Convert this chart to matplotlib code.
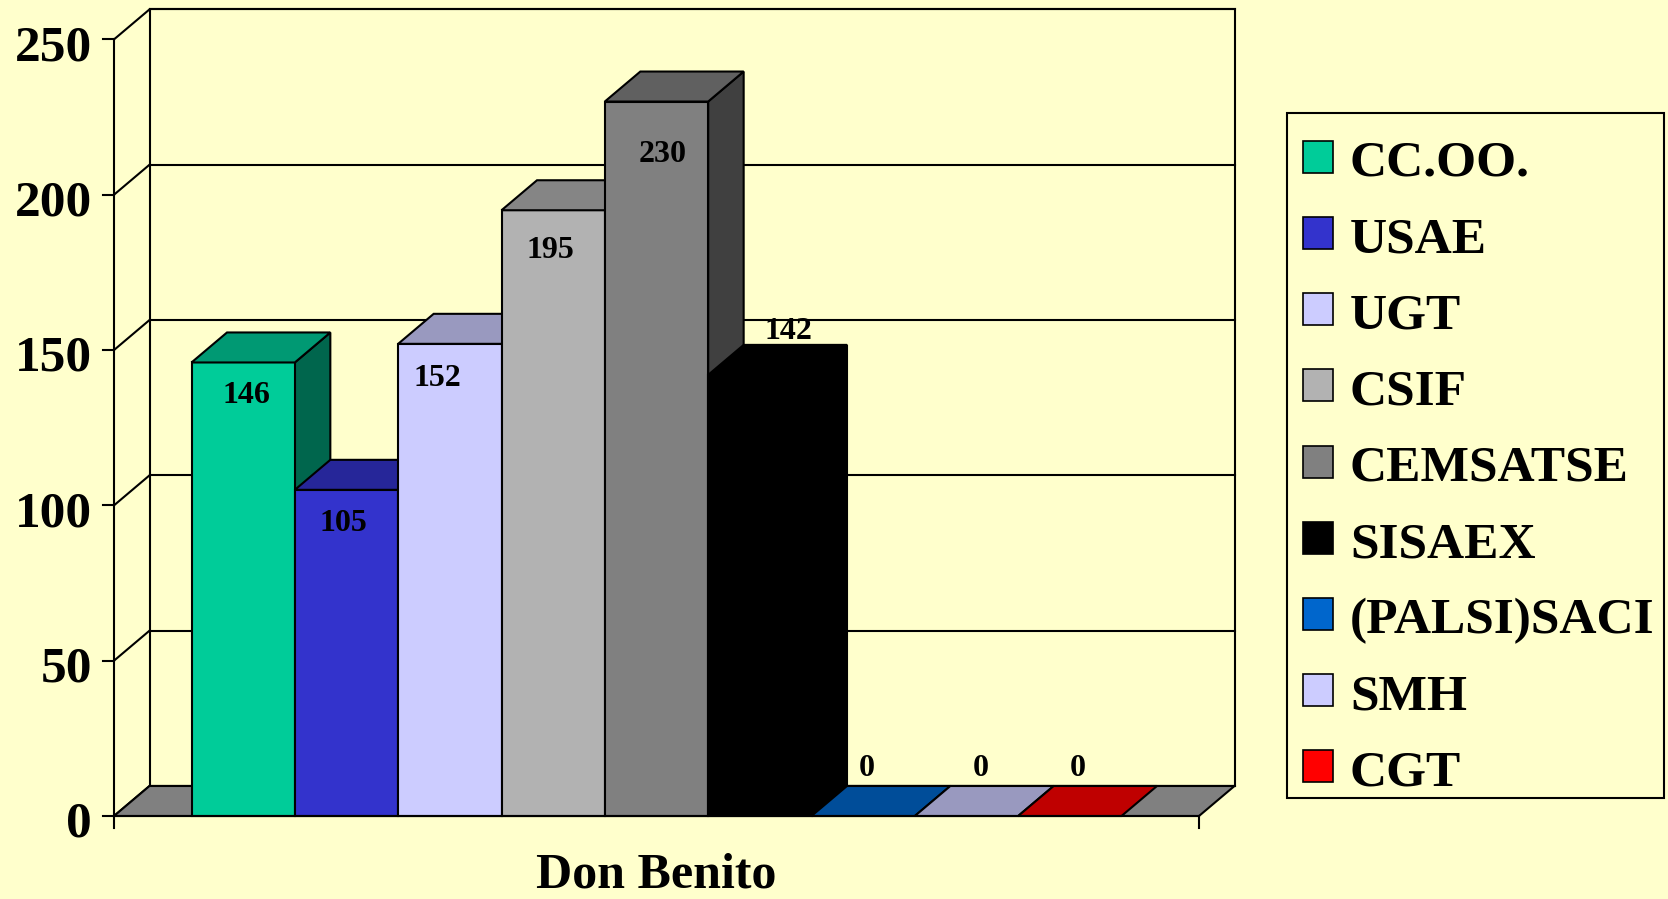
import matplotlib
matplotlib.use('Agg')
import matplotlib.pyplot as plt
from matplotlib.patches import Polygon, Rectangle
from matplotlib.lines import Line2D
from matplotlib.transforms import IdentityTransform
from matplotlib.colors import to_rgb

# ---------------- data ----------------
category = 'Don Benito'
series = ['CC.OO.', 'USAE', 'UGT', 'CSIF', 'CEMSATSE', 'SISAEX', '(PALSI)SACI', 'SMH', 'CGT']
values = [146, 105, 152, 195, 230, 142, 0, 0, 0]
colors = ['#00CC99', '#3333CC', '#CCCCFF', '#B2B2B2', '#808080', '#000000',
          '#0066CC', '#CCCCFF', '#FF0000']
yticks = [0, 50, 100, 150, 200, 250]

# ---------------- style ----------------
BG = '#FFFFCC'
FLOOR = '#808080'
FONT = 'Liberation Serif'
W, H, DPI = 1668, 899, 100
DX, DY = 35.5, 30.0      # depth offset (pixels)
LW = 1.5
# label placement relative to the front-top centre of each bar (pixels, +y downwards)
label_offset_px = [(3.5, 30), (-3.5, 30.5), (-12.5, 31.5), (-2.5, 37), (5.7, 50),
                   (29, -46.6), (4, -51), (14, -51), (8, -51)]

fig = plt.figure(figsize=(W / DPI, H / DPI), dpi=DPI, facecolor=BG)
ax = fig.add_axes([114 / W, 83 / H, 1085 / W, 776.6 / H])
n = len(values)
x0, x1 = -0.75, n + 0.75
ymax = yticks[-1]
ax.set_xlim(x0, x1)
ax.set_ylim(0, ymax)
ax.axis('off')
ax.set_facecolor(BG)

ID = IdentityTransform()
PT = 72.0 / DPI   # points per pixel


def P(x, y, d=0.0):
    px, py = ax.transData.transform((x, y))
    return (px + d * DX, py + d * DY)


def poly(pts, fc, z=2, ec='black'):
    ax.add_patch(Polygon(pts, closed=True, facecolor=fc, edgecolor=ec, linewidth=LW,
                         transform=ID, clip_on=False, zorder=z, joinstyle='miter'))


def line(p, q, z=1.5, lw=LW):
    ax.add_line(Line2D([p[0], q[0]], [p[1], q[1]], color='black', linewidth=lw,
                       transform=ID, clip_on=False, zorder=z, solid_capstyle='projecting'))


def shade(c, f):
    r, g, b = to_rgb(c)
    return (r * f, g * f, b * f)


# back wall
poly([P(x0, 0, 1), P(x1, 0, 1), P(x1, ymax, 1), P(x0, ymax, 1)], BG, z=1)
# gridlines on back wall and side wall
for t in yticks:
    line(P(x0, t, 1), P(x1, t, 1))
    line(P(x0, t, 0), P(x0, t, 1))
# floor
poly([P(x0, 0, 0), P(x1, 0, 0), P(x1, 0, 1), P(x0, 0, 1)], FLOOR, z=1.8)
# value axis (front left edge) and ticks
line(P(x0, 0), P(x0, ymax), z=5)
px, py = P(x0, 0)
line((px, py), (px, py - 12), z=5)
px, py = P(x1, 0)
line((px, py), (px, py - 12), z=5)
for t in yticks:
    px, py = P(x0, t)
    line((px - 11, py), (px, py), z=5)
    ax.annotate(str(t), xy=(x0, t), xytext=(-16.0, -14.9), textcoords='offset points',
                ha='right', va='baseline', fontsize=37, fontweight='bold',
                family=FONT, color='black', annotation_clip=False)

# bars, drawn left to right (painter's order)
for i, (v, c) in enumerate(zip(values, colors)):
    a, b = i, i + 1
    if v > 0:
        poly([P(b, 0, 0), P(b, 0, 1), P(b, v, 1), P(b, v, 0)], shade(c, 0.5), z=3)
        poly([P(a, 0, 0), P(b, 0, 0), P(b, v, 0), P(a, v, 0)], c, z=3)
    poly([P(a, v, 0), P(b, v, 0), P(b, v, 1), P(a, v, 1)], shade(c, 0.75), z=3)

# front floor edge on top
line(P(x0, 0), P(x1, 0), z=4)

# data labels (visual centre of digits ~0.34 em above baseline)
LFS = 23
for i, v in enumerate(values):
    dxp, dyp = label_offset_px[i]
    ax.annotate(str(v), xy=(i + 0.5, v), xytext=(dxp * PT, -dyp * PT - 0.34 * LFS),
                textcoords='offset points', ha='center', va='baseline',
                fontsize=LFS, fontweight='bold', family=FONT, zorder=6,
                annotation_clip=False)

# category label
ax.annotate(category, xy=((x0 + x1) / 2, 0), xytext=(0, -51.5), textcoords='offset points',
            ha='center', va='baseline', fontsize=36, fontweight='bold', family=FONT,
            annotation_clip=False)

# ---------------- legend (figure pixel coords) ----------------
lx0, lx1, ly_top, ly_bot = 1287.3, 1664.0, 113.3, 798.0
fig.add_artist(Rectangle((lx0, H - ly_bot), lx1 - lx0, ly_bot - ly_top, transform=ID,
                         facecolor=BG, edgecolor='black', linewidth=LW, zorder=1))
row0, step = 156.7, 76.2
for k, (name, c) in enumerate(zip(series, colors)):
    yc = row0 + step * k
    fig.add_artist(Rectangle((1302.7, H - yc - 16), 30.6, 32, transform=ID,
                             facecolor=c, edgecolor='black', linewidth=1.2, zorder=2))
    fig.text(1350 / W, (H - yc - 19.3) / H, name, ha='left', va='baseline',
             fontsize=37, fontweight='bold', family=FONT, zorder=3)

fig.savefig('out.png', dpi=DPI, facecolor=BG)
